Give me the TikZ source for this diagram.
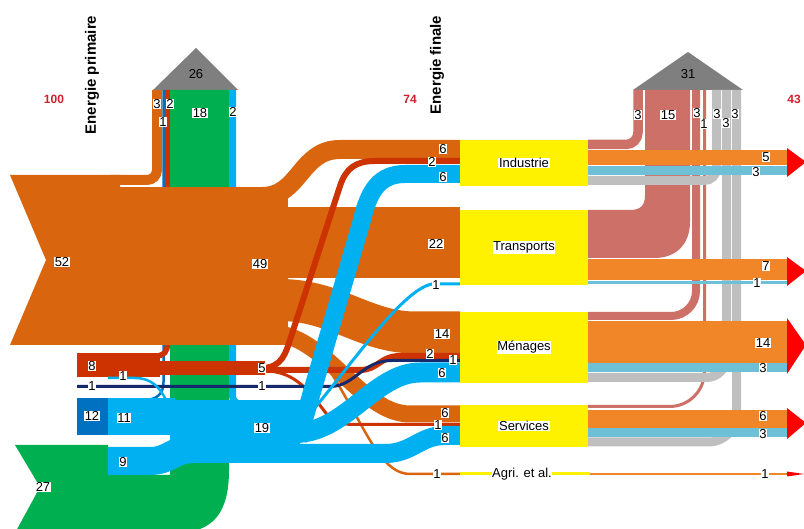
\documentclass[tikz,border=0pt]{standalone}
\usepackage{fontspec}
\setmainfont{Liberation Sans}
\usetikzlibrary{positioning}

\definecolor{oilc}{HTML}{D9650E}
\definecolor{gasc}{HTML}{CC3300}
\definecolor{coalc}{HTML}{16296C}
\definecolor{elecc}{HTML}{00B0F0}
\definecolor{hydroc}{HTML}{0070C0}
\definecolor{bioc}{HTML}{00B050}
\definecolor{lossc}{HTML}{7F7F7F}
\definecolor{heatc}{HTML}{CC7068}
\definecolor{wastec}{HTML}{BFBFBF}
\definecolor{usec}{HTML}{F08628}
\definecolor{effc}{HTML}{6EC0D6}
\definecolor{tipc}{HTML}{FF0000}
\definecolor{totc}{HTML}{D21E2D}

\tikzset{
  num/.style={fill=white,inner sep=0.6pt,font=\fontsize{13}{14}\selectfont},
  ybox/.style={fill=yellow,inner sep=0pt,minimum width=128pt},
  total/.style={text=totc,font=\bfseries\fontsize{12}{14}\selectfont},
  stage/.style={rotate=90,font=\bfseries\fontsize{15}{17}\selectfont}
}

\begin{document}
\begin{tikzpicture}[x=1pt,y=-1pt]
\useasboundingbox (0,0) rectangle (804,529);

% primary losses
\fill[lossc] (153,90) -- (196,48) -- (238,90) -- cycle;
\node[num,fill=lossc] (lossP) at (196,74) {26};
\draw[hydroc,line width=2.5] (163.5,90) -- (163.5,382) .. controls (163.5,393) and (158,399) .. (146,400);
\draw[gasc,line width=5.5] (167.5,90) -- (167.5,343) .. controls (167.5,352) and (164,356) .. (155,356);
\fill[bioc] (15,445) -- (108,445) -- (108,475) -- (170,475) -- (170,90) -- (229,90) -- (229,470)
  .. controls (229,512) and (214,533) .. (175,533) -- (15,533) -- (40,487) -- cycle;
\draw[elecc,line width=7,rounded corners=8] (232.5,90) -- (232.5,404) -- (262,404);

% oil
\fill[oilc] (10,175) -- (120,175) -- (120,345) -- (10,345) -- (46,260) -- cycle;
\draw[oilc,line width=10,rounded corners=10] (110,180) -- (157,180) -- (157,90);
\fill[oilc] (115,187) rectangle (288,345);
\draw[oilc,line width=19] (262,196.5) .. controls (300,196.5) and (300,149.5) .. (340,149.5) -- (460,149.5);
\fill[oilc] (282,207) rectangle (460,278);
\draw[oilc,line width=42] (280,300) .. controls (335,300) and (365,332.5) .. (415,332.5) -- (460,332.5);
\draw[oilc,line width=17] (270,333) .. controls (325,333) and (360,414) .. (410,414) -- (460,414);
\draw[oilc,line width=2.5] (285,343.5) .. controls (318,345) and (330,370) .. (350,405)
  .. controls (370,440) and (385,474) .. (410,474) -- (460,474);

% gas
\fill[gasc] (77,353) rectangle (160,377);
\fill[gasc] (155,361) rectangle (265,375);
\draw[gasc,line width=6] (262,368) .. controls (282,368) and (286,352) .. (290,340) -- (340,186)
  .. controls (346,168) and (356,161) .. (375,161) -- (460,161);
\draw[gasc,line width=6] (262,370) -- (360,370) .. controls (378,370) and (380,356) .. (400,356) -- (460,356);
\draw[gasc,line width=3] (265,371) .. controls (295,371) and (310,392) .. (325,412)
  .. controls (332,422) and (340,424.5) .. (355,424.5) -- (460,424.5);

% coal
\draw[coalc,line width=3] (77,386.5) -- (330,386.5) .. controls (355,386.5) and (362,360.5) .. (392,360.5) -- (460,360.5);

% electricity
\draw[elecc,line width=2.5] (108,378) -- (135,378) .. controls (152,378) and (160,388) .. (166,400);
\fill[hydroc] (77,398) rectangle (108,435);
\fill[elecc] (108,398) rectangle (175,435);
\draw[elecc,line width=28] (108,461) -- (150,461) .. controls (170,461) and (172,449) .. (195,449) -- (300,449);
\fill[elecc] (170,400) rectangle (300,463);
\draw[elecc,line width=18] (298,440) -- (362,220) .. controls (369,190) and (380,174) .. (405,174) -- (460,174);
\draw[elecc,line width=3] (300,425) .. controls (345,375) and (400,290) .. (432,284) -- (460,284);
\draw[elecc,line width=20] (295,433) .. controls (345,433) and (375,372.5) .. (420,372.5) -- (460,372.5);
\draw[elecc,line width=19] (295,453.5) -- (385,453.5) .. controls (412,453.5) and (420,435.5) .. (445,435.5) -- (460,435.5);

% sectors
\node[ybox,minimum height=46pt] (ind) at (524,163) {};
\node[ybox,minimum height=75pt] (tra) at (524,247.5) {};
\node[ybox,minimum height=71pt] (men) at (524,347.5) {};
\node[ybox,minimum height=42pt] (ser) at (524,426) {};
\draw[yellow,line width=3] (460,474) -- (590,474);

% final losses
\fill[lossc] (633,90) -- (688,52) -- (743,90) -- cycle;
\node[num,fill=lossc] (lossF) at (688,74) {31};
\draw[heatc,line width=9.5,rounded corners=12] (588,144.5) -- (638,144.5) -- (638,90);
\fill[heatc] (588,210) -- (630,210) .. controls (641,210) and (645,205) .. (645,195) -- (645,90) -- (690,90)
  -- (690,222) .. controls (690,245) and (675,258) .. (655,258) -- (588,258) -- cycle;
\draw[heatc,line width=8,rounded corners=25] (588,316) -- (696,316) -- (696,90);
\draw[heatc,line width=3,rounded corners=35] (588,406.5) -- (704.5,406.5) -- (704.5,90);
\draw[wastec,line width=9,rounded corners=12] (588,180.5) -- (716.5,180.5) -- (716.5,90);
\draw[wastec,line width=9,rounded corners=20] (588,377.5) -- (726.5,377.5) -- (726.5,90);
\draw[wastec,line width=9,rounded corners=28] (588,442) -- (736.5,442) -- (736.5,90);

% useful energy
\fill[usec] (588,150) rectangle (787,165);
\fill[effc] (588,166) rectangle (787,175);
\fill[tipc] (787,148) -- (806,162) -- (787,177) -- cycle;
\fill[usec] (588,259) rectangle (787,280);
\fill[effc] (588,281) rectangle (787,284);
\fill[tipc] (787,257) -- (806,271) -- (787,286) -- cycle;
\fill[usec] (588,321) rectangle (787,363);
\fill[effc] (588,363) rectangle (787,372);
\fill[tipc] (787,318) -- (806,345) -- (787,374) -- cycle;
\fill[usec] (588,410) rectangle (787,428);
\fill[effc] (588,428) rectangle (787,437);
\fill[tipc] (787,408) -- (806,423) -- (787,439) -- cycle;
\draw[usec,line width=2.5] (590,474) -- (788,474);
\fill[tipc] (787,471.5) -- (804,474) -- (787,476.5) -- cycle;

% titles and totals
\node[stage] (titleP) at (92,75) {Energie primaire};
\node[stage] (titleF) at (437,65) {Energie finale};
\node[total] (tot100) at (54,99) {100};
\node[total] (tot74) at (410,99) {74};
\node[total] (tot43) at (794,99) {43};

% labels left
\node[num] (l3o) at (157,104) {3};
\node[num] (l2g) at (170,104) {2};
\node[num] (l1h) at (163,122) {1};
\node[num] (l18) at (200,113) {18};
\node[num] (l2e) at (233,112) {2};
\node[num] (l52) at (62,262) {52};
\node[num] (l49) at (260,264) {49};
\node[num] (l8) at (92,366) {8};
\node[num] (l1ge) at (123,376) {1};
\node[num] (l1c) at (92,386) {1};
\node[num] (l5) at (262,368) {5};
\node[num] (l1cc) at (262,386) {1};
\node[num] (l12) at (92,416) {12};
\node[num] (l11) at (124,418) {11};
\node[num] (l9) at (123,462) {9};
\node[num] (l19) at (262,428) {19};
\node[num] (l27) at (43,487) {27};

% labels at sectors
\node[num] (i6o) at (443,149) {6};
\node[num] (i2g) at (432,162) {2};
\node[num] (i6e) at (443,177) {6};
\node[num] (t22) at (436,244) {22};
\node[num] (t1e) at (436,285) {1};
\node[num] (m14) at (442,334) {14};
\node[num] (m2g) at (430,354) {2};
\node[num] (m1c) at (453,360) {1};
\node[num] (m6e) at (442,373) {6};
\node[num] (s6o) at (445,413) {6};
\node[num] (s1g) at (438,425) {1};
\node[num] (s6e) at (445,438) {6};
\node[num] (a1) at (437,474) {1};
\node[num] (indlab) at (ind) {Industrie};
\node[num] (tralab) at (tra) {Transports};
\node[num] (menlab) at (men) {Ménages};
\node[num] (serlab) at (ser) {Services};
\node[num] (agrlab) at (522,474) {Agri. et al.};

% labels right
\node[num] (r3a) at (638,115) {3};
\node[num] (r15) at (668,115) {15};
\node[num] (r3b) at (697,113) {3};
\node[num] (r1) at (704,124) {1};
\node[num] (r3c) at (717,114) {3};
\node[num] (r3d) at (726,123) {3};
\node[num] (r3e) at (735,114) {3};
\node[num] (u5) at (766,157) {5};
\node[num] (u3i) at (756,172) {3};
\node[num] (u7) at (766,266) {7};
\node[num] (u1t) at (757,283) {1};
\node[num] (u14) at (763,343) {14};
\node[num] (u3m) at (763,368) {3};
\node[num] (u6) at (763,416) {6};
\node[num] (u3s) at (763,434) {3};
\node[num] (ua1) at (765,474) {1};
\end{tikzpicture}
\end{document}
